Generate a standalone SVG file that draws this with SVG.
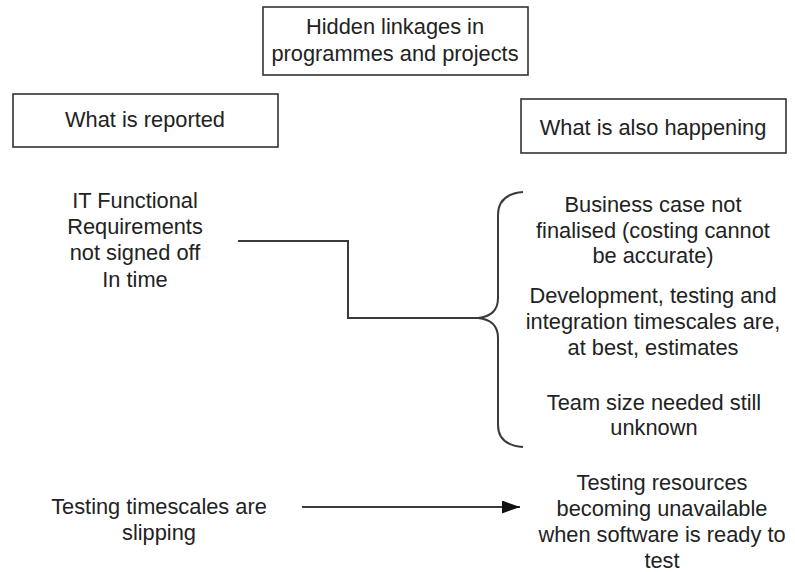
<svg xmlns="http://www.w3.org/2000/svg" width="795" height="572" viewBox="0 0 795 572">
<style>
.box{fill:#fff;stroke:#333;stroke-width:1.6}
.t{font-family:"Liberation Sans",Arial,sans-serif;font-size:21.8px;fill:#222;text-anchor:middle}
.ln{fill:none;stroke:#3a3a3a;stroke-width:2}
</style>
<defs>
<marker id="ah" markerWidth="18" markerHeight="13" refX="18" refY="6.5" orient="auto" markerUnits="userSpaceOnUse">
<path d="M0,0 L18,6.5 L0,13 Z" fill="#111"/>
</marker>
</defs>
<rect width="795" height="572" fill="#fff"/>
<g id="title">
<rect class="box" x="263" y="7" width="265" height="68"/>
<text class="t" x="395" y="34">Hidden linkages in</text>
<text class="t" x="395" y="61">programmes and projects</text>
</g>
<g id="reported">
<rect class="box" x="13" y="94" width="265" height="53"/>
<text class="t" x="145" y="127">What is reported</text>
</g>
<g id="happening">
<rect class="box" x="521" y="99" width="265" height="54"/>
<text class="t" x="653" y="135">What is also happening</text>
</g>
<g id="it-req">
<text class="t" x="135" y="208">IT Functional</text>
<text class="t" x="135" y="234">Requirements</text>
<text class="t" x="135" y="260">not signed off</text>
<text class="t" x="135" y="287">In time</text>
</g>
<g id="business-case">
<text class="t" x="653" y="212">Business case not</text>
<text class="t" x="653" y="238">finalised (costing cannot</text>
<text class="t" x="653" y="263">be accurate)</text>
</g>
<g id="development">
<text class="t" x="653" y="303">Development, testing and</text>
<text class="t" x="653" y="329">integration timescales are,</text>
<text class="t" x="653" y="355">at best, estimates</text>
</g>
<g id="team-size">
<text class="t" x="654" y="410">Team size needed still</text>
<text class="t" x="654" y="435">unknown</text>
</g>
<g id="testing-slip">
<text class="t" x="159" y="514">Testing timescales are</text>
<text class="t" x="159" y="540">slipping</text>
</g>
<g id="testing-resources">
<text class="t" x="662" y="490">Testing resources</text>
<text class="t" x="662" y="516">becoming unavailable</text>
<text class="t" x="662" y="542">when software is ready to</text>
<text class="t" x="662" y="568">test</text>
</g>
<g id="connectors">
<path class="ln" d="M238,241 H348 V318 H478"/>
<path class="ln" d="M523,192 Q498,194 498,215 V298 Q498,316 478,318 Q498,320 498,338 V425 Q498,445 523,447"/>
<path class="ln" d="M302,507 H520" marker-end="url(#ah)"/>
</g>
</svg>
